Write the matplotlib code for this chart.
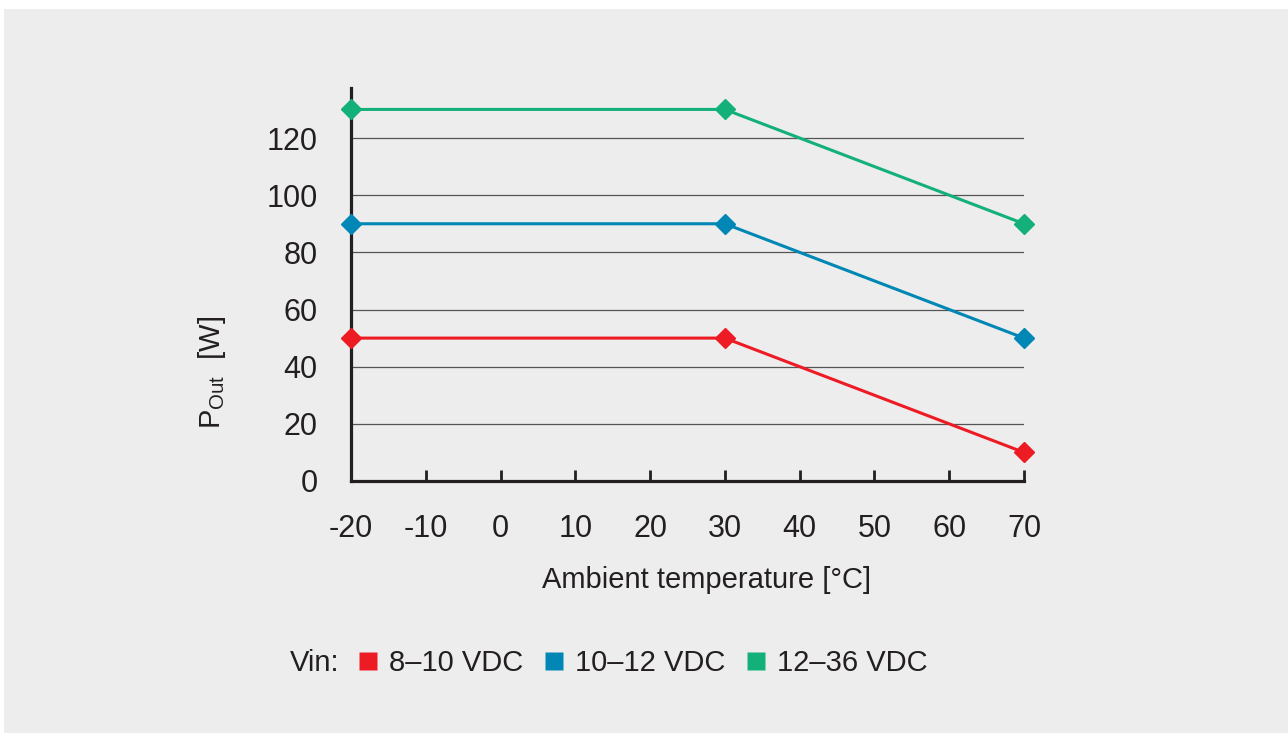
import matplotlib
matplotlib.use("Agg")
import matplotlib.pyplot as plt
from matplotlib.lines import Line2D
from matplotlib.patches import Rectangle

plt.rcParams['font.family'] = ['Liberation Sans', 'DejaVu Sans']
plt.rcParams['mathtext.fontset'] = 'custom'
plt.rcParams['mathtext.rm'] = 'Liberation Sans'

# Data
temps = [-20, 30, 70]
p_8_10 = [50, 50, 10]
p_10_12 = [90, 90, 50]
p_12_36 = [130, 130, 90]
series_labels = ["8–10 VDC", "10–12 VDC", "12–36 VDC"]
series_colors = ["#ED1C24", "#0087B5", "#14B07A"]
x_ticks = [-20, -10, 0, 10, 20, 30, 40, 50, 60, 70]
x_ticklabels = ["-20", "-10", "0", "10", "20", "30", "40", "50", "60", "70"]
y_ticks = [0, 20, 40, 60, 80, 100, 120]
y_ticklabels = ["0", "20", "40", "60", "80", "100", "120"]

W, H = 1288, 733
fig = plt.figure(figsize=(W / 100, H / 100), dpi=100)
fig.patch.set_facecolor("white")
fig.patches.append(Rectangle((4 / W, 0), 1 - 4 / W, (H - 9) / H, transform=fig.transFigure,
                             facecolor="#EDEDED", edgecolor="none", zorder=-10))

ax_l, ax_r, ax_b, ax_t = 351, 1024, 481, 88
ax = fig.add_axes([ax_l / W, (H - ax_b) / H, (ax_r - ax_l) / W, (ax_b - ax_t) / H])
ax.set_facecolor("none")
ax.set_xlim(-20, 70)
ax.set_ylim(0, 137.5)

for s in ["top", "right"]:
    ax.spines[s].set_visible(False)
for s in ["left", "bottom"]:
    ax.spines[s].set_color("#231F20")
    ax.spines[s].set_linewidth(2.3)

ax.set_yticks(y_ticks)
ax.set_yticklabels(y_ticklabels)
ax.set_xticks(x_ticks)
ax.set_xticklabels(x_ticklabels)
ax.tick_params(axis="y", length=0, pad=24, labelsize=22, labelcolor="#231F20")
ax.tick_params(axis="x", direction="in", length=8, width=2.0, color="#231F20",
               pad=24, labelsize=22, labelcolor="#231F20")
ax.yaxis.grid(True, color="#555555", linewidth=0.9)
ax.set_axisbelow(True)

for ys, c in zip([p_8_10, p_10_12, p_12_36], series_colors):
    ax.plot(temps, ys, color=c, linewidth=2.2, marker="D", markersize=10,
            clip_on=False, zorder=5)

ax.set_xlabel("Ambient temperature [°C]", fontsize=21, color="#231F20")
ax.xaxis.set_label_coords((707 - ax_l) / (ax_r - ax_l), -(580 - ax_b) / (ax_b - ax_t))
ax.xaxis.label.set_va("center")

fig.text(212 / W, 1 - 372 / H, r"P$_{\mathrm{Out}}$  [W]", rotation=90, fontsize=21,
         color="#231F20", ha="center", va="center")

fig.text(290 / W, 1 - 663 / H, "Vin:", fontsize=21, color="#231F20", ha="left", va="center")
handles = [Line2D([], [], linestyle="none", marker="s", markersize=13,
                  markerfacecolor=c, markeredgecolor="none") for c in series_colors]
fig.legend(handles, series_labels, loc="center left", bbox_to_anchor=(359 / W, 1 - 663 / H),
           ncol=3, frameon=False, fontsize=21, handlelength=0.62, handletextpad=0.4,
           columnspacing=0.75, borderpad=0, borderaxespad=0, labelcolor="#231F20")

fig.savefig("out.png", dpi=100)
